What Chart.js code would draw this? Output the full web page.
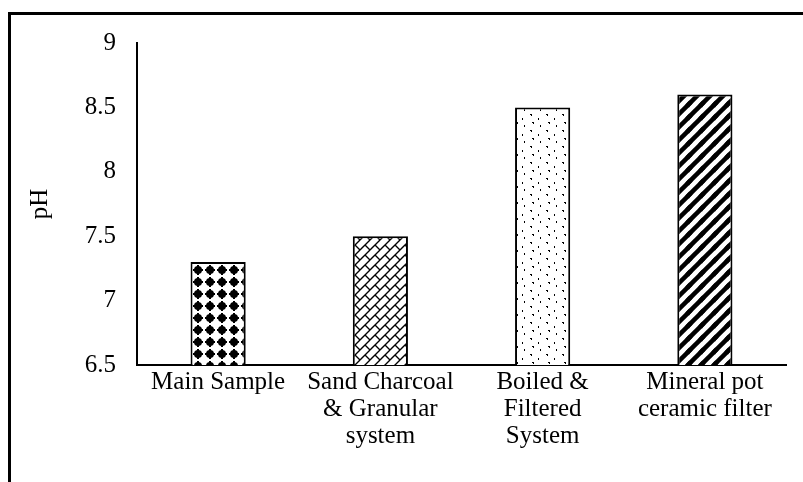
<!DOCTYPE html>
<html>
  <head>
    <title>pH chart</title>
    <script src="https://cdn.jsdelivr.net/npm/chart.js"></script>
    <style>
      body {
        margin: 0;
        background-color: #ffffff;
      }

      .frame {
        position: absolute;
        left: 8px;
        top: 12px;
        right: 0;
        bottom: 0;
        border-left: 3px solid #000000;
        border-top: 3px solid #000000;
      }

      .chart-box {
        position: absolute;
        left: 0;
        top: 0;
        width: 803px;
        height: 482px;
      }
    </style>
  </head>
  <body>
    <div class="frame"></div>
    <div class="chart-box">
      <canvas id="myChart"></canvas>
    </div>

    <script>
      var categories = [
        ["Main Sample"],
        ["Sand Charcoal", "& Granular", "system"],
        ["Boiled &", "Filtered", "System"],
        ["Mineral pot", "ceramic filter"],
      ];
      var phValues = [7.3, 7.5, 8.5, 8.6];
      var yTicks = [6.5, 7, 7.5, 8, 8.5, 9];

      var serif = "'Liberation Serif', 'Times New Roman', serif";

      // draw a shape at every wrap offset so the tile repeats cleanly
      function makePattern(size, draw) {
        var c = document.createElement("canvas");
        c.width = size;
        c.height = size;
        var g = c.getContext("2d");
        g.fillStyle = "#ffffff";
        g.fillRect(0, 0, size, size);
        g.fillStyle = "#000000";
        g.strokeStyle = "#000000";
        for (let dx of [-size, 0, size]) {
          for (let dy of [-size, 0, size]) {
            g.save();
            g.translate(dx, dy);
            draw(g, size);
            g.restore();
          }
        }
        return g.createPattern(c, "repeat");
      }

      var dotPattern = makePattern(12, (g, s) => {
        g.beginPath();
        g.arc(6, 6, 4, 0, Math.PI * 2);
        g.fill();
        g.fillRect(5, 1, 2, 10);
        g.fillRect(1, 5, 10, 2);
      });

      var brickPattern = makePattern(10, (g, s) => {
        g.lineWidth = 1.4;
        g.beginPath();
        g.moveTo(0, 10);
        g.lineTo(10, 0);
        g.moveTo(5, 5);
        g.lineTo(10, 10);
        g.stroke();
      });

      var confettiPattern = makePattern(16, (g, s) => {
        g.fillRect(2, 2, 2, 1);
        g.fillRect(3, 3, 1, 1);
        g.fillRect(10, 6, 1, 2);
        g.fillRect(4, 10, 2, 1);
        g.fillRect(5, 11, 1, 1);
        g.fillRect(12, 13, 1, 2);
      });

      var stripePattern = makePattern(13, (g, s) => {
        g.lineWidth = 4.5;
        g.beginPath();
        g.moveTo(-2, 15);
        g.lineTo(15, -2);
        g.stroke();
      });

      var ctx = document.getElementById("myChart").getContext("2d");

      var myChart = new Chart(ctx, {
        type: "bar",
        data: {
          labels: categories,
          datasets: [{
            label: "pH",
            data: phValues,
            backgroundColor: [dotPattern, brickPattern, confettiPattern, stripePattern],
            borderColor: "#000000",
            borderWidth: 2,
            categoryPercentage: 1,
            barPercentage: 0.34,
          }],
        },
        options: {
          responsive: true,
          maintainAspectRatio: false,
          animation: false,
          layout: {
            padding: { left: 25, top: 43, right: 17, bottom: 0 },
          },
          plugins: {
            legend: { display: false },
            tooltip: { enabled: false },
          },
          scales: {
            x: {
              grid: { display: false, drawTicks: false },
              border: { color: "#000000", width: 2 },
              ticks: {
                color: "#000000",
                padding: 4,
                maxRotation: 0,
                autoSkip: false,
                font: { family: serif, size: 25, lineHeight: "27px" },
              },
              afterFit: (scale) => {
                scale.height = 117;
              },
            },
            y: {
              min: 6.5,
              max: 9,
              afterBuildTicks: (scale) => {
                scale.ticks = yTicks.map((v) => ({ value: v }));
              },
              grid: { display: false, drawTicks: false },
              border: { color: "#000000", width: 2 },
              ticks: {
                color: "#000000",
                padding: 21,
                font: { family: serif, size: 25 },
                callback: (v) => String(v),
              },
              title: {
                display: true,
                text: "pH",
                color: "#000000",
                padding: 0,
                font: { family: serif, size: 25 },
              },
              afterFit: (scale) => {
                scale.width = 112;
              },
            },
          },
        },
      });
    </script>
  </body>
</html>
